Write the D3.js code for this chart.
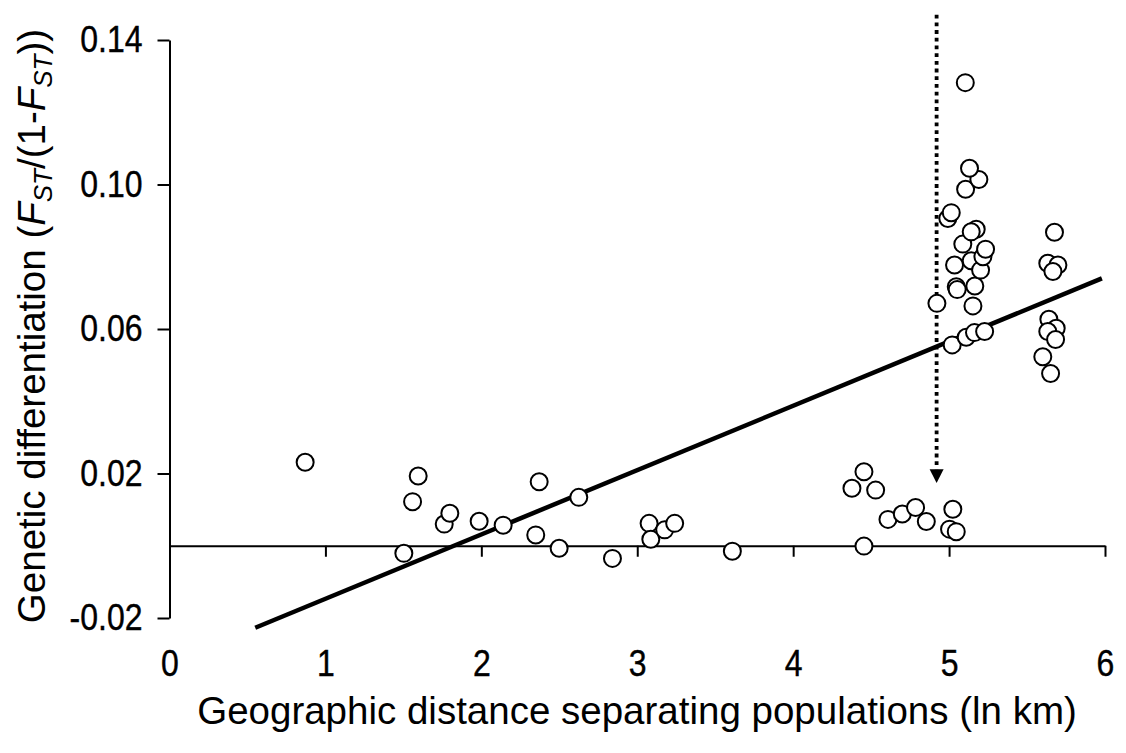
<!DOCTYPE html>
<html>
<head>
<meta charset="utf-8">
<script src="https://cdn.jsdelivr.net/npm/d3@7/dist/d3.min.js"></script>
<style>
  html, body { margin: 0; padding: 0; background: #fff; }
  svg { display: block; font-family: "Liberation Sans", Arial, sans-serif; }
  .tick text { transform-box: fill-box; transform-origin: center; transform: scaleY(1.13);
               stroke: #000; stroke-width: 0.35px; }
</style>
</head>
<body>
<svg id="chart" width="1126" height="753"></svg>
<script>
// Pairwise population comparisons: ln geographic distance vs FST/(1-FST)
const distance = [
  0.87, 1.503, 1.559, 1.595, 1.762, 1.798, 1.986, 2.140, 2.349, 2.371,
  2.499, 2.625, 2.841, 3.076, 3.087, 3.176, 3.240, 3.610, 4.377, 4.454,
  4.454, 4.529, 4.608, 4.700, 4.785, 4.854, 5.003, 5.024, 5.046,
  4.922, 5.020, 5.110, 5.163, 5.228, 5.153, 5.046, 5.052, 5.165,
  5.035, 5.142, 5.202, 5.217, 5.234, 5.088, 5.174, 5.142, 4.992, 5.014,
  5.106, 5.191, 5.131, 5.104,
  5.676, 5.633, 5.698, 5.666, 5.640, 5.687, 5.633, 5.683, 5.601, 5.651
];
const differentiation = [
  0.0231, -0.0021, 0.0122, 0.0193, 0.0060, 0.0090, 0.0068, 0.0057, 0.0030, 0.0177,
  -0.0007, 0.0134, -0.0035, 0.0062, 0.0018, 0.0044, 0.0062, -0.0015, 0.0159, -0.0001,
  0.0205, 0.0154, 0.0073, 0.0088, 0.0106, 0.0067, 0.0046, 0.0101, 0.0039,
  0.0671, 0.0556, 0.0577, 0.0590, 0.0593, 0.0664, 0.0717, 0.0709, 0.0719,
  0.0777, 0.0789, 0.0763, 0.0800, 0.0821, 0.0835, 0.0876, 0.0869, 0.0906, 0.0922,
  0.0987, 0.1014, 0.1045, 0.1282,
  0.0868, 0.0782, 0.0777, 0.0759, 0.0627, 0.0602, 0.0593, 0.0571, 0.0523, 0.0477
];

// Least-squares fit, drawn between its two end points
const fitX = [0.55, 5.98];
const fitY = [-0.0227, 0.0740];

// Vertical dotted marker with arrow pointing down
const markerX = 4.92;
const markerY = [0.147, 0.0212, 0.0174];

const xTicks = [0, 1, 2, 3, 4, 5, 6];
const yTicks = [-0.02, 0.02, 0.06, 0.10, 0.14];

const svg = d3.select("#chart");
const x = d3.scaleLinear().domain([0, 6]).range([169.5, 1105]);
const y = d3.scaleLinear().domain([-0.02, 0.14]).range([618, 40]);

const font = "Liberation Sans, Arial, sans-serif";

// y axis
const yAxis = svg.append("g")
  .attr("transform", `translate(${x(0)},0)`)
  .call(d3.axisLeft(y).tickValues(yTicks)
    .tickFormat(d => d3.format(".2f")(d).replace("\u2212", "-"))
    .tickSize(12).tickSizeOuter(0).tickPadding(15));
yAxis.select(".domain").attr("stroke", "#000").attr("stroke-width", 2);
yAxis.selectAll(".tick line").attr("stroke", "#000").attr("stroke-width", 2);
yAxis.selectAll(".tick text").attr("font-size", 32).attr("fill", "#000")
  .attr("font-family", font);

// x axis along the zero line
const xAxis = svg.append("g")
  .attr("transform", `translate(0,${y(0)})`)
  .call(d3.axisBottom(x).tickValues(xTicks).tickFormat(d3.format("d"))
    .tickSize(11).tickSizeOuter(0).tickPadding(95));
xAxis.select(".domain").attr("stroke", "#000").attr("stroke-width", 2);
xAxis.selectAll(".tick line").attr("stroke", "#000").attr("stroke-width", 2);
xAxis.selectAll(".tick text").attr("font-size", 32).attr("fill", "#000")
  .attr("font-family", font);

// regression line
svg.append("line")
  .attr("x1", x(fitX[0])).attr("y1", y(fitY[0]))
  .attr("x2", x(fitX[1])).attr("y2", y(fitY[1]))
  .attr("stroke", "#000").attr("stroke-width", 4.5);

// dotted marker and arrow head
svg.append("line")
  .attr("x1", x(markerX)).attr("y1", y(markerY[0]))
  .attr("x2", x(markerX)).attr("y2", y(markerY[1]))
  .attr("stroke", "#000").attr("stroke-width", 3.8)
  .attr("stroke-dasharray", "3.8 3.9");
const ax = x(markerX), aTop = y(markerY[1]), aTip = y(markerY[2]);
svg.append("path")
  .attr("d", `M${ax - 7},${aTop} L${ax + 7},${aTop} L${ax},${aTip} Z`)
  .attr("fill", "#000");

// data points
svg.append("g").selectAll("circle")
  .data(distance.map((d, i) => [d, differentiation[i]]))
  .join("circle")
  .attr("cx", d => x(d[0])).attr("cy", d => y(d[1]))
  .attr("r", 8.5)
  .attr("fill", "#fff").attr("stroke", "#000").attr("stroke-width", 2);

// axis titles
svg.append("text")
  .attr("x", 637).attr("y", 724)
  .attr("text-anchor", "middle").attr("font-size", 38.5).attr("fill", "#000")
  .text("Geographic distance separating populations (ln km)");

const yt = svg.append("text")
  .attr("transform", `translate(45,326) rotate(-90)`)
  .attr("text-anchor", "middle").attr("font-size", 38.5).attr("fill", "#000");
yt.append("tspan").text("Genetic differentiation (");
yt.append("tspan").attr("font-style", "italic").text("F");
yt.append("tspan").attr("font-style", "italic").attr("font-size", 26).attr("dy", 7).text("ST");
yt.append("tspan").attr("dy", -7).text("/(1-");
yt.append("tspan").attr("font-style", "italic").text("F");
yt.append("tspan").attr("font-style", "italic").attr("font-size", 26).attr("dy", 7).text("ST");
yt.append("tspan").attr("dy", -7).text("))");
</script>
</body>
</html>
